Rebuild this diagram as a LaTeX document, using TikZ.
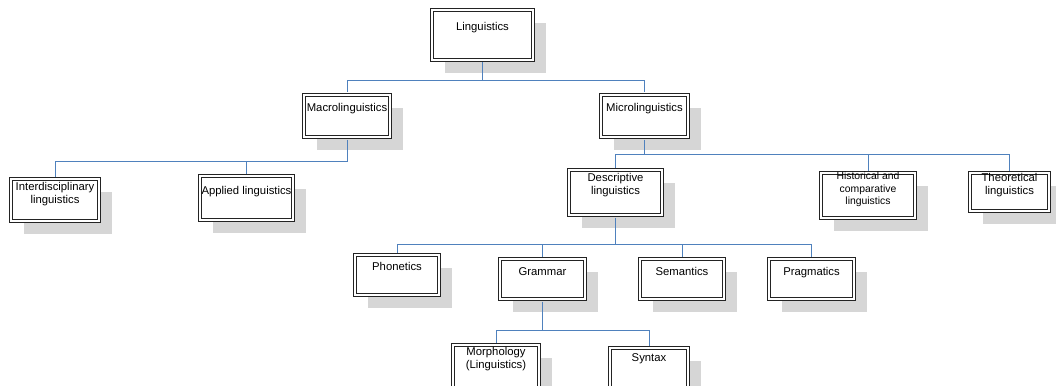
\documentclass[tikz,border=0pt]{standalone}
\usepackage{fontspec}
\setmainfont{Liberation Sans}
\usetikzlibrary{shadows}

\definecolor{linkblue}{RGB}{79,129,189}
\definecolor{shade}{RGB}{214,214,214}
\definecolor{frame}{RGB}{35,35,35}

\tikzset{
  box/.style={rectangle, draw=frame, line width=1pt, double=white,
    double distance=1.6pt, fill=white, inner sep=0pt,
    general shadow={fill=shade, shadow xshift=13pt, shadow yshift=-13pt}},
  boxtext/.style={anchor=north, inner sep=0pt, align=center,
    font=\fontsize{11.3}{13}\selectfont, text=black},
  smalltext/.style={boxtext, font=\fontsize{10.4}{12.5}\selectfont},
  link/.style={draw=linkblue, line width=1pt},
}

\begin{document}
\begin{tikzpicture}[x=1pt, y=-1pt]
\useasboundingbox (0,0) rectangle (1056,385);
\clip (0,0) rectangle (1056,385);

% boxes
\node[box, minimum width=101pt, minimum height=50pt] (ling)  at (482.5,35)  {};
\node[box, minimum width=86pt,  minimum height=42pt] (macro) at (347,116)   {};
\node[box, minimum width=87pt,  minimum height=42pt] (micro) at (644.5,116) {};
\node[box, minimum width=88pt,  minimum height=42pt] (inter) at (55,200)    {};
\node[box, minimum width=93pt,  minimum height=44pt] (appl)  at (246.5,198) {};
\node[box, minimum width=93pt,  minimum height=45pt] (desc)  at (615.5,192.5) {};
\node[box, minimum width=94pt,  minimum height=45pt] (hist)  at (868,195.5) {};
\node[box, minimum width=79pt,  minimum height=38pt] (theo)  at (1009.5,192) {};
\node[box, minimum width=84pt,  minimum height=40pt] (phon)  at (397,275)   {};
\node[box, minimum width=85pt,  minimum height=40pt] (gram)  at (542.5,279) {};
\node[box, minimum width=84pt,  minimum height=40pt] (sem)   at (682,279)   {};
\node[box, minimum width=85pt,  minimum height=40pt] (prag)  at (811.5,279) {};
\node[box, minimum width=86pt,  minimum height=44pt] (morph) at (496,367)   {};
\node[box, minimum width=78pt,  minimum height=44pt] (syn)   at (649,370)   {};

% labels, set near the top of each box
\node[boxtext] (lingT)  at ([yshift=-12.5pt]ling.north)  {Linguistics};
\node[boxtext] (macroT) at ([yshift=-8.5pt]macro.north)  {Macrolinguistics};
\node[boxtext] (microT) at ([yshift=-8.5pt]micro.north)  {Microlinguistics};
\node[boxtext] (interT) at ([yshift=-3.5pt]inter.north)  {Interdisciplinary\\linguistics};
\node[boxtext] (applT)  at ([yshift=-10.5pt]appl.north)  {Applied linguistics};
\node[boxtext] (descT)  at ([yshift=-3.5pt]desc.north)   {Descriptive\\linguistics};
\node[smalltext] (histT) at ([yshift=0.5pt]hist.north)   {Historical and\\comparative\\linguistics};
\node[boxtext] (theoT)  at ([yshift=-0.5pt]theo.north)   {Theoretical\\linguistics};
\node[boxtext] (phonT)  at ([yshift=-7.5pt]phon.north)   {Phonetics};
\node[boxtext] (gramT)  at ([yshift=-8.5pt]gram.north)   {Grammar};
\node[boxtext] (semT)   at ([yshift=-8.5pt]sem.north)    {Semantics};
\node[boxtext] (pragT)  at ([yshift=-8.5pt]prag.north)   {Pragmatics};
\node[boxtext] (morphT) at ([yshift=-2.5pt]morph.north)  {Morphology\\(Linguistics)};
\node[boxtext] (synT)   at ([yshift=-5.5pt]syn.north)    {Syntax};

% tree connectors
\draw[link] ([yshift=-2pt]ling.south) -- ++(0,18) coordinate (j1);
\draw[link] (j1) -| ([yshift=2pt]macro.north);
\draw[link] (j1) -| ([yshift=2pt]micro.north);

\draw[link] ([yshift=-2pt]macro.south) -- ++(0,22) coordinate (j2);
\draw[link] (j2) -| ([yshift=2pt]inter.north);
\draw[link] (j2) -| ([yshift=2pt]appl.north);

\draw[link] ([yshift=-2pt]micro.south) -- ++(0,15) coordinate (j3);
\draw[link] (j3) -| ([yshift=2pt]desc.north);
\draw[link] (j3) -| ([yshift=2pt]hist.north);
\draw[link] (j3) -| ([yshift=2pt]theo.north);

\draw[link] ([yshift=-2pt]desc.south) -- ++(0,27) coordinate (j4);
\draw[link] (j4) -| ([yshift=2pt]phon.north);
\draw[link] (j4) -| ([yshift=2pt]gram.north);
\draw[link] (j4) -| ([yshift=2pt]sem.north);
\draw[link] (j4) -| ([yshift=2pt]prag.north);

\draw[link] ([yshift=-2pt]gram.south) -- ++(0,29) coordinate (j5);
\draw[link] (j5) -| ([yshift=2pt]morph.north);
\draw[link] (j5) -| ([yshift=2pt]syn.north);
\end{tikzpicture}
\end{document}
